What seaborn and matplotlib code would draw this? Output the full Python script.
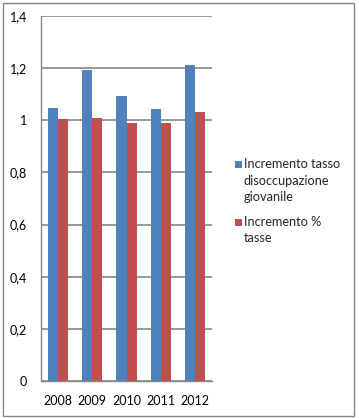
import matplotlib
matplotlib.use("Agg")
import matplotlib.pyplot as plt
import matplotlib.patches as mpatches
import seaborn as sns
import pandas as pd

# dati
anni = ["2008", "2009", "2010", "2011", "2012"]
disoccupazione = [1.049, 1.192, 1.092, 1.045, 1.212]
tasse = [1.006, 1.010, 0.988, 0.988, 1.032]
serie = ["Incremento tasso disoccupazione giovanile", "Incremento % tasse"]
righe_legenda = [["Incremento tasso", "disoccupazione", "giovanile"],
                 ["Incremento %", "tasse"]]
colori = ["#4F81BD", "#C0504D"]
yticks = [0, 0.2, 0.4, 0.6, 0.8, 1.0, 1.2, 1.4]
ylabels = ["0", "0,2", "0,4", "0,6", "0,8", "1", "1,2", "1,4"]

df = pd.DataFrame({
    "anno": anni * 2,
    "valore": disoccupazione + tasse,
    "serie": [serie[0]] * len(anni) + [serie[1]] * len(anni),
})

sns.set_style("white")
plt.rcParams["font.family"] = ["Lato", "DejaVu Sans"]
grigio = "#868686"
W, H = 359, 418

fig = plt.figure(figsize=(W / 100, H / 100), dpi=100)
ax = fig.add_axes([41 / W, 37 / H, 171 / W, 365 / H])

sns.barplot(data=df, x="anno", y="valore", hue="serie", order=anni,
            hue_order=serie, palette=colori, width=0.585, gap=0,
            saturation=1, ax=ax, legend=False, edgecolor="none")

ax.set_ylim(0, 1.4)
ax.set_xlim(-0.5, len(anni) - 0.5)
ax.set_yticks(yticks)
ax.set_yticklabels(ylabels)
ax.set_xlabel("")
ax.set_ylabel("")
ax.yaxis.grid(True, color=grigio, linewidth=1.2)
ax.set_axisbelow(True)

for s in ["top", "right"]:
    ax.spines[s].set_visible(False)
for s in ["left", "bottom"]:
    ax.spines[s].set_color(grigio)
    ax.spines[s].set_linewidth(1.0)

# tick dell'asse x tra le categorie
ax.set_xticks(range(len(anni)))
ax.set_xticklabels(anni)
ax.set_xticks([i - 0.5 for i in range(len(anni) + 1)], minor=True)
ax.tick_params(axis="x", which="major", length=0, pad=10, labelsize=9,
               labelcolor="black")
ax.tick_params(axis="x", which="minor", length=4, color=grigio, width=1)
ax.tick_params(axis="y", length=4, color=grigio, width=1, pad=6,
               labelsize=9, labelcolor="black")

# legenda a destra, quadratino allineato alla prima riga
y_legenda = [[164, 181, 197], [222, 238]]
for colore, righe, ys in zip(colori, righe_legenda, y_legenda):
    fig.patches.append(mpatches.Rectangle((235 / W, 1 - (ys[0] + 3.5) / H),
                                          7 / W, 7 / H,
                                          transform=fig.transFigure,
                                          facecolor=colore, edgecolor="none"))
    for testo, y in zip(righe, ys):
        fig.text(244 / W, 1 - (y + 4.5) / H, testo, va="baseline",
                 ha="left", fontsize=9.2)

# cornice del grafico
fig.patches.append(mpatches.Rectangle((3 / W, 2 / H), 351 / W, 413 / H,
                                      transform=fig.transFigure,
                                      fill=False, edgecolor=grigio,
                                      linewidth=1.0))

fig.savefig("out.png", dpi=100)
